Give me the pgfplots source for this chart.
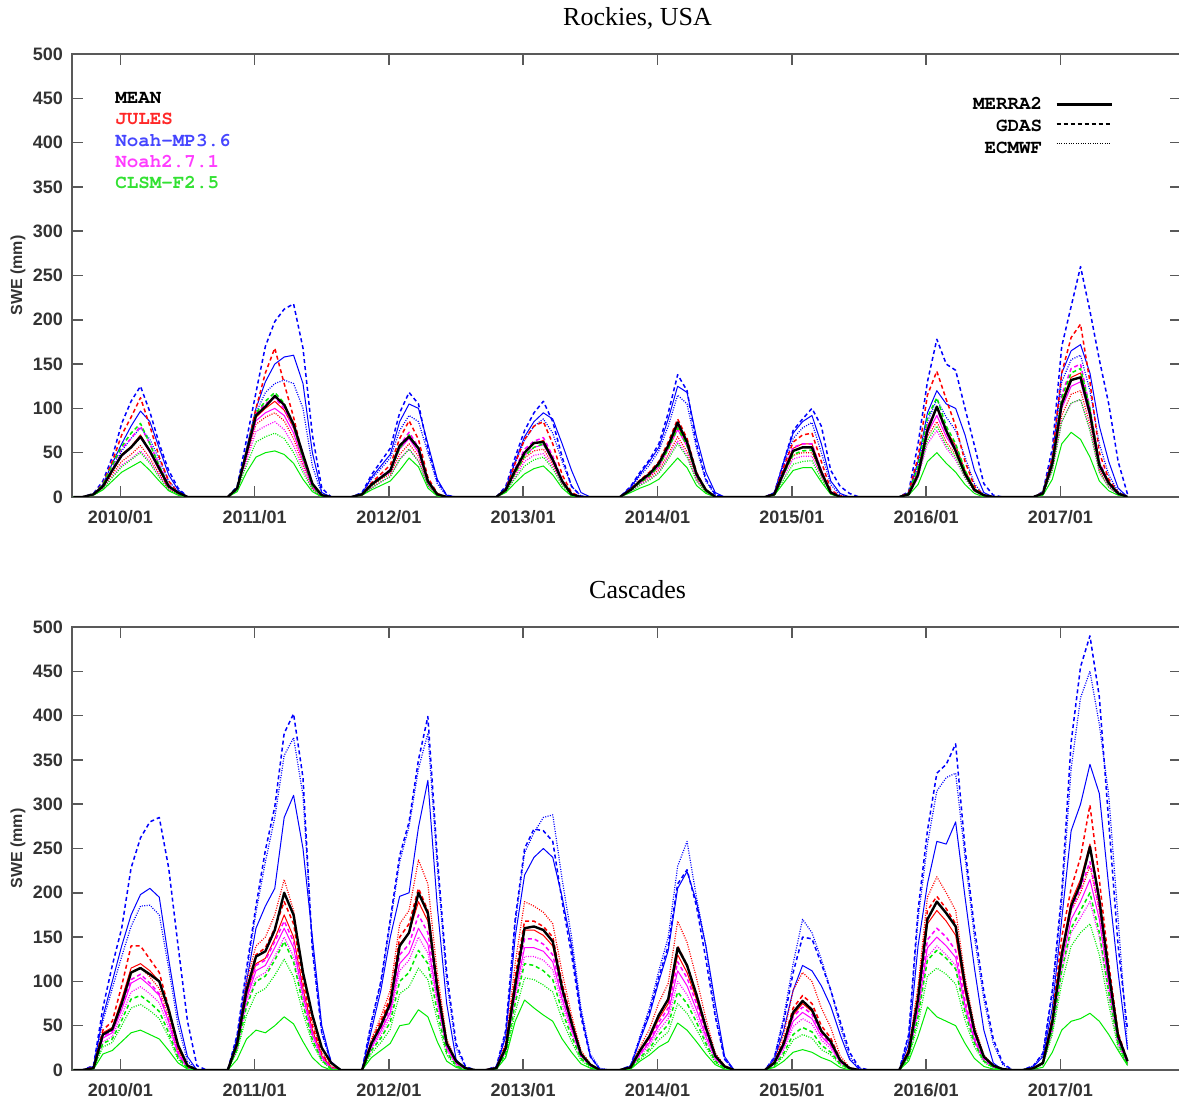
\documentclass[border=0pt]{standalone}
\usepackage{fontspec}
\setmainfont{Liberation Serif}
\setsansfont{Liberation Sans}
\setmonofont{TeX Gyre Cursor}
\usepackage{pgfplots}
\pgfplotsset{compat=1.18}
\usepackage{pgfplotstable}

\definecolor{cj}{RGB}{255,0,0}
\definecolor{cn}{RGB}{0,0,255}
\definecolor{co}{RGB}{255,0,255}
\definecolor{cc}{RGB}{0,235,0}
\definecolor{tj}{RGB}{255,40,40}
\definecolor{tn}{RGB}{70,70,255}
\definecolor{to}{RGB}{255,60,255}
\definecolor{tc}{RGB}{50,225,50}

% columns: mean, JULES (j), Noah-MP3.6 (n), Noah2.7.1 (o), CLSM-F2.5 (c)
% suffix m = MERRA2, g = GDAS, e = ECMWF
\pgfplotstableread{
x mean jm jg je nm ng ne om og oe cm cg ce
2009.65 0 0 0 0 0 0 0 0 0 0 0 0 0
2009.72 0 0 0 0 0 0 0 0 0 0 0 0 0
2009.80 3 3 3 2 3 4 3 3 3 2 2 3 2
2009.87 12 12 15 10 14 18 12 12 14 9 8 14 9
2009.94 30 30 40 26 38 45 32 30 35 23 18 36 22
2010.01 47 48 70 40 60 83 52 46 55 36 28 57 34
2010.08 56 57 90 48 80 108 66 56 66 43 34 72 42
2010.15 68 70 112 58 97 125 78 67 80 52 40 83 50
2010.22 52 52 80 44 85 96 65 50 60 40 30 60 38
2010.29 32 32 45 26 55 60 42 30 36 24 18 35 22
2010.36 12 12 18 10 25 30 18 12 14 9 7 13 8
2010.43 5 4 5 3 8 10 6 4 5 3 2 4 3
2010.50 0 0 0 0 0 0 0 0 0 0 0 0 0
2010.80 0 0 0 0 0 0 0 0 0 0 0 0 0
2010.87 10 10 10 9 10 12 8 10 10 8 6 10 8
2010.94 50 48 52 44 55 65 48 46 50 40 28 52 36
2011.01 92 90 100 82 100 118 95 86 94 74 45 95 62
2011.08 102 100 140 90 130 170 118 95 105 80 50 108 68
2011.15 114 108 168 95 150 198 128 100 112 85 52 118 72
2011.22 104 98 128 86 158 212 132 92 100 76 48 106 66
2011.29 82 78 90 66 160 218 128 72 78 58 38 80 50
2011.36 48 44 45 36 128 168 100 40 44 32 20 44 28
2011.43 15 12 12 10 50 70 35 11 12 9 6 12 8
2011.50 2 1 0 0 5 10 3 1 1 0 0 1 0
2011.57 0 0 0 0 0 0 0 0 0 0 0 0 0
2011.72 0 0 0 0 0 0 0 0 0 0 0 0 0
2011.80 3 3 3 2 4 5 4 3 3 2 2 3 2
2011.87 14 14 16 12 22 25 20 13 14 10 8 13 10
2011.94 22 22 26 20 35 40 32 21 23 17 13 21 17
2012.01 30 30 36 26 48 55 44 28 31 23 18 29 23
2012.08 58 56 66 48 85 95 75 54 58 43 30 55 42
2012.15 68 70 86 60 105 118 92 66 73 54 44 70 54
2012.22 55 54 65 46 100 105 85 50 56 41 34 54 40
2012.29 18 18 22 15 60 55 50 16 18 13 10 17 13
2012.36 3 3 4 2 20 18 15 3 3 2 1 3 2
2012.43 0 0 0 0 2 2 1 0 0 0 0 0 0
2012.50 0 0 0 0 0 0 0 0 0 0 0 0 0
2012.80 0 0 0 0 0 0 0 0 0 0 0 0 0
2012.87 8 8 9 7 10 12 10 8 8 6 5 7 6
2012.94 30 30 38 26 40 45 38 28 32 23 16 27 21
2013.01 50 50 65 44 68 75 64 47 54 40 26 46 35
2013.08 61 60 80 52 85 95 80 56 63 47 32 56 42
2013.15 62 64 85 54 95 108 88 59 67 49 35 60 45
2013.22 42 44 60 37 88 85 72 40 46 34 25 42 32
2013.29 18 18 25 15 60 45 40 16 19 14 10 17 13
2013.36 3 3 5 2 30 12 12 2 3 2 1 2 2
2013.43 0 0 0 0 5 1 1 0 0 0 0 0 0
2013.50 0 0 0 0 0 0 0 0 0 0 0 0 0
2013.72 0 0 0 0 0 0 0 0 0 0 0 0 0
2013.80 8 8 9 7 11 12 10 8 8 6 5 8 6
2013.87 18 17 19 15 26 28 24 16 18 14 10 16 13
2013.94 26 25 28 22 40 42 36 24 26 20 14 24 19
2014.01 38 36 40 31 56 60 52 34 37 28 20 35 27
2014.08 58 56 62 48 88 95 80 54 58 45 32 54 43
2014.15 84 80 88 68 125 138 115 76 83 63 44 78 60
2014.22 62 60 66 51 118 120 105 57 62 47 33 58 45
2014.29 26 25 28 21 68 60 55 23 25 19 13 24 18
2014.36 8 7 8 6 28 20 18 7 8 6 4 7 5
2014.43 0 0 0 0 5 3 2 0 0 0 0 0 0
2014.50 0 0 0 0 0 0 0 0 0 0 0 0 0
2014.80 0 0 0 0 0 0 0 0 0 0 0 0 0
2014.87 3 3 4 3 5 5 4 3 3 2 2 3 2
2014.94 28 30 34 26 40 40 36 28 30 23 16 26 20
2015.01 52 55 62 47 72 75 66 52 56 43 30 48 37
2015.08 56 60 70 50 85 88 78 56 60 46 33 52 40
2015.15 56 60 72 50 92 100 84 56 60 46 33 53 41
2015.22 28 30 40 25 60 80 50 28 30 23 17 26 20
2015.29 5 6 8 5 18 30 14 5 6 4 3 5 4
2015.36 0 0 1 0 4 12 2 0 0 0 0 0 0
2015.43 0 0 0 0 0 4 0 0 0 0 0 0 0
2015.50 0 0 0 0 0 0 0 0 0 0 0 0 0
2015.80 0 0 0 0 0 0 0 0 0 0 0 0 0
2015.87 3 3 5 3 5 6 4 3 3 2 2 4 3
2015.94 25 30 45 25 40 60 35 27 30 22 14 34 24
2016.01 75 80 115 68 95 130 85 72 80 60 40 90 64
2016.08 102 100 142 85 120 178 110 92 100 75 50 112 80
2016.15 75 75 110 62 105 150 90 68 72 55 38 80 58
2016.22 52 58 80 48 100 143 75 52 56 42 28 60 45
2016.29 26 30 40 25 70 100 45 26 28 21 14 30 22
2016.36 8 9 12 7 30 58 15 8 9 6 4 9 7
2016.43 2 2 2 1 5 15 2 1 2 1 0 2 1
2016.50 0 0 0 0 0 2 0 0 0 0 0 0 0
2016.57 0 0 0 0 0 0 0 0 0 0 0 0 0
2016.80 0 0 0 0 0 0 0 0 0 0 0 0 0
2016.87 4 4 5 4 5 6 5 4 4 3 2 4 3
2016.94 38 38 45 33 45 55 42 36 40 30 20 40 30
2017.01 105 108 140 92 140 170 130 100 115 85 60 112 85
2017.08 132 135 180 116 165 215 155 125 145 106 73 140 106
2017.15 135 140 195 120 172 260 160 130 150 110 65 145 110
2017.22 94 96 130 82 140 210 120 90 100 76 45 100 75
2017.29 36 36 50 30 80 155 60 34 40 28 18 38 28
2017.36 16 15 20 12 40 105 25 14 16 11 7 15 11
2017.43 4 4 5 3 10 40 6 3 4 3 2 4 3
2017.50 0 0 0 0 0 3 0 0 0 0 0 0 0
}\rockies

\pgfplotstableread{
x mean jm jg je nm ng ne om og oe cm cg ce
2009.65 0 0 0 0 0 0 0 0 0 0 0 0 0
2009.72 0 0 0 0 0 0 0 0 0 0 0 0 0
2009.80 2 2 3 2 4 5 4 2 2 2 1 2 2
2009.87 40 42 45 40 60 70 55 36 38 32 18 30 26
2009.94 46 48 55 46 100 118 92 42 44 38 22 35 31
2010.01 75 80 95 76 140 160 128 68 72 62 32 56 50
2010.08 110 115 140 110 175 228 162 98 102 88 42 80 70
2010.15 115 120 140 116 198 262 185 104 108 94 45 84 74
2010.22 108 112 125 105 205 280 186 95 98 86 40 76 67
2010.29 100 100 110 92 195 285 175 84 86 76 35 66 58
2010.36 68 66 70 60 125 228 115 54 56 48 22 42 37
2010.43 28 25 25 22 60 140 50 18 20 16 8 14 12
2010.50 5 3 4 3 15 55 10 2 3 2 1 2 1
2010.57 0 0 0 0 0 5 0 0 0 0 0 0 0
2010.64 0 0 0 0 0 0 0 0 0 0 0 0 0
2010.80 0 0 0 0 0 0 0 0 0 0 0 0 0
2010.87 30 28 30 32 35 40 38 26 28 24 12 24 21
2010.94 90 85 92 100 100 115 110 80 84 75 35 72 62
2011.01 128 120 130 140 160 185 178 112 118 104 45 100 86
2011.08 134 126 138 150 185 248 235 118 124 110 42 106 92
2011.15 158 148 160 175 205 297 285 138 145 128 50 124 107
2011.22 200 175 190 215 285 380 355 160 168 150 60 145 125
2011.29 175 150 165 180 310 402 375 138 145 128 52 122 105
2011.36 110 92 100 110 250 330 310 84 88 78 32 74 64
2011.43 62 45 50 55 150 135 140 40 42 36 14 34 30
2011.50 25 16 18 20 50 42 42 14 15 12 4 11 10
2011.57 8 3 3 4 8 9 8 2 2 2 0 1 1
2011.64 0 0 0 0 0 0 0 0 0 0 0 0 0
2011.80 0 0 0 0 0 0 0 0 0 0 0 0 0
2011.87 30 30 32 35 45 55 52 26 28 24 14 22 19
2011.94 50 52 55 60 90 100 98 44 47 40 22 36 31
2012.01 75 78 82 90 150 170 165 65 70 60 30 54 46
2012.08 140 142 150 165 196 242 235 120 130 112 50 100 86
2012.15 155 155 165 180 200 280 275 132 142 124 52 110 94
2012.22 200 190 205 237 274 350 340 160 175 150 68 135 115
2012.29 177 168 180 210 327 399 380 142 155 132 60 120 102
2012.36 92 95 100 110 185 240 230 80 86 74 32 66 56
2012.43 30 30 32 35 75 110 100 25 27 23 10 20 17
2012.50 10 8 9 10 12 30 25 7 8 6 3 5 4
2012.57 2 1 1 2 0 4 3 1 1 1 0 0 0
2012.64 0 0 0 0 0 0 0 0 0 0 0 0 0
2012.72 0 0 0 0 0 0 0 0 0 0 0 0 0
2012.80 2 2 2 3 3 4 4 2 2 2 1 2 2
2012.87 25 26 28 30 38 45 42 22 24 20 14 19 16
2012.94 95 98 105 120 150 170 165 86 92 80 55 75 65
2013.01 160 158 168 190 220 250 245 138 148 128 79 120 104
2013.08 162 158 168 185 240 272 268 138 148 128 70 118 102
2013.15 158 152 162 178 250 270 285 134 142 124 62 112 96
2013.22 145 140 150 165 240 258 288 122 130 113 55 102 88
2013.29 92 92 98 110 195 190 215 80 86 74 35 66 57
2013.36 53 52 56 62 140 130 150 46 49 42 20 38 32
2013.43 18 18 19 22 65 60 70 16 17 14 7 13 11
2013.50 6 6 6 7 15 15 18 5 5 4 2 4 3
2013.57 0 0 0 0 1 1 2 0 0 0 0 0 0
2013.64 0 0 0 0 0 0 0 0 0 0 0 0 0
2013.72 0 0 0 0 0 0 0 0 0 0 0 0 0
2013.80 3 3 3 3 4 5 5 2 2 2 1 2 2
2013.87 22 21 22 26 34 36 38 18 19 16 10 14 12
2013.94 38 36 38 46 62 66 70 31 33 28 17 24 21
2014.01 62 58 62 76 100 105 112 50 54 45 26 40 34
2014.08 80 75 80 98 135 140 150 64 70 58 32 51 43
2014.15 138 130 140 168 205 210 230 112 122 100 53 88 75
2014.22 118 110 118 144 224 226 258 95 104 85 45 75 64
2014.29 85 80 86 104 190 185 195 68 75 61 32 54 46
2014.36 48 45 48 58 140 125 140 38 42 34 18 30 26
2014.43 16 15 16 19 75 60 65 13 14 11 6 10 8
2014.50 4 4 4 5 15 12 12 3 3 3 1 2 2
2014.57 0 0 0 0 0 0 0 0 0 0 0 0 0
2014.80 0 0 0 0 0 0 0 0 0 0 0 0 0
2014.87 8 8 9 10 12 14 15 7 7 6 3 5 4
2014.94 30 30 33 40 45 55 60 26 28 23 10 19 16
2015.01 65 62 70 90 90 110 120 55 60 49 20 40 34
2015.08 78 75 84 110 118 150 170 65 71 58 23 48 40
2015.15 68 66 75 100 112 148 155 58 63 52 20 43 36
2015.22 44 43 50 70 95 120 125 38 41 34 14 28 23
2015.29 32 31 36 48 72 90 90 27 29 24 10 20 17
2015.36 11 10 12 16 40 55 50 9 10 8 3 7 6
2015.43 2 2 2 3 12 20 15 1 2 1 0 1 1
2015.50 0 0 0 0 1 3 2 0 0 0 0 0 0
2015.57 0 0 0 0 0 0 0 0 0 0 0 0 0
2015.80 0 0 0 0 0 0 0 0 0 0 0 0 0
2015.87 20 20 22 24 30 40 38 17 18 16 10 15 13
2015.94 80 82 88 95 140 180 170 68 72 64 38 60 52
2016.01 170 165 180 195 210 270 255 138 147 128 71 124 106
2016.08 190 180 196 218 258 335 315 150 160 140 60 135 115
2016.15 177 168 182 200 255 345 330 140 150 130 55 126 108
2016.22 162 152 165 180 280 368 335 127 135 118 50 114 97
2016.29 95 88 95 105 195 250 240 73 78 68 30 65 56
2016.36 44 41 45 50 115 160 150 34 36 32 13 30 26
2016.43 15 14 15 17 45 88 80 11 12 10 4 10 9
2016.50 5 4 5 5 8 35 30 3 4 3 1 3 2
2016.57 1 0 1 1 0 8 6 0 0 0 0 0 0
2016.64 0 0 0 0 0 0 0 0 0 0 0 0 0
2016.72 0 0 0 0 0 0 0 0 0 0 0 0 0
2016.80 2 2 2 2 4 5 5 2 2 2 1 2 2
2016.87 8 8 8 8 15 19 18 7 8 7 3 7 6
2016.94 55 55 60 52 70 90 85 48 52 44 20 46 40
2017.01 130 135 150 128 170 200 190 120 130 110 45 112 98
2017.08 185 190 205 180 270 370 340 170 180 155 55 160 140
2017.15 210 215 240 200 300 455 420 190 205 172 58 180 155
2017.22 252 255 299 230 345 490 450 215 235 190 64 200 165
2017.29 192 195 215 180 312 421 390 170 182 150 55 155 130
2017.36 110 110 120 100 207 280 310 95 102 84 40 88 74
2017.43 38 38 42 35 110 140 170 32 35 28 22 30 25
2017.50 10 9 10 8 23 45 25 7 8 6 5 7 6
}\cascades

\tikzset{
  mer/.style={solid, line width=0.5pt},
  gda/.style={dash pattern=on 2pt off 1.5pt, line width=0.75pt},
  ecm/.style={dash pattern=on 0.5pt off 0.7pt, line width=0.6pt},
}
\pgfplotsset{
  panel/.style={
    scale only axis, width=554.5pt, height=221.5pt, anchor=south west,
    xmin=2009.64, xmax=2017.898, ymin=0, ymax=500,
    xtick={2010,2011,2012,2013,2014,2015,2016,2017},
    xticklabels={2010/01,2011/01,2012/01,2013/01,2014/01,2015/01,2016/01,2017/01},
    ytick={0,50,...,500},
    tick align=inside, major tick length=5.5pt,
    axis line style={black!65, line width=0.75pt},
    every tick/.style={black!65, line width=0.75pt},
    ticklabel style={font=\sffamily\bfseries\fontsize{9}{10}\selectfont, text=black!80},
    xticklabel style={yshift=-3pt},
    yticklabel style={xshift=-1pt},
    /pgf/number format/assume math mode=true,
    ylabel={SWE (mm)},
    every axis y label/.style={at={([xshift=-27pt]axis description cs:0,0.5)}, rotate=90, anchor=center,
      font=\sffamily\bfseries\fontsize{8}{9}\selectfont, text=black!80},
    every axis title/.style={at={(0.51,1)}, anchor=base, yshift=14pt, font=\fontsize{13}{15}\selectfont},
    every axis plot/.append style={line join=round},
  },
}

\newcommand{\allcurves}[1]{%
  \addplot[cn, ecm] table[x=x,y=ne]{#1};
  \addplot[cn, gda] table[x=x,y=ng]{#1};
  \addplot[cn, mer] table[x=x,y=nm]{#1};
  \addplot[cj, ecm] table[x=x,y=je]{#1};
  \addplot[cj, gda] table[x=x,y=jg]{#1};
  \addplot[cj, mer] table[x=x,y=jm]{#1};
  \addplot[co, ecm] table[x=x,y=oe]{#1};
  \addplot[co, gda] table[x=x,y=og]{#1};
  \addplot[co, mer] table[x=x,y=om]{#1};
  \addplot[cc, ecm] table[x=x,y=ce]{#1};
  \addplot[cc, gda] table[x=x,y=cg]{#1};
  \addplot[cc, mer] table[x=x,y=cm]{#1};
  \addplot[black, line width=1.2pt] table[x=x,y=mean]{#1};
}

\begin{document}
\begin{tikzpicture}
\useasboundingbox (0pt,0pt) rectangle (589.5pt,550.5pt);

\begin{axis}[panel, at={(36pt,302pt)}, title={Rockies, USA}]
\allcurves{\rockies}
\begin{scope}[every node/.style={inner sep=0pt, font=\ttfamily\bfseries\fontsize{9.6}{10}\selectfont}]
\node[anchor=base west, text=black] at (axis cs:2009.96,444) {MEAN};
\node[anchor=base west, text=tj] at (axis cs:2009.96,420) {JULES};
\node[anchor=base west, text=tn] at (axis cs:2009.96,396) {Noah-MP3.6};
\node[anchor=base west, text=to] at (axis cs:2009.96,372) {Noah2.7.1};
\node[anchor=base west, text=tc] at (axis cs:2009.96,348) {CLSM-F2.5};
\node[anchor=base east, text=black] at (axis cs:2016.868,437) {MERRA2};
\node[anchor=base east, text=black] at (axis cs:2016.868,413) {GDAS};
\node[anchor=base east, text=black] at (axis cs:2016.868,388) {ECMWF};
\end{scope}
\draw[black, line width=1.2pt] (axis cs:2016.972,443) -- (axis cs:2017.382,443);
\draw[black, gda] (axis cs:2016.972,421) -- (axis cs:2017.382,421);
\draw[black, ecm] (axis cs:2016.972,399) -- (axis cs:2017.382,399);
\end{axis}

\begin{axis}[panel, at={(36pt,15.5pt)}, title={Cascades}]
\allcurves{\cascades}
\end{axis}
\end{tikzpicture}
\end{document}
